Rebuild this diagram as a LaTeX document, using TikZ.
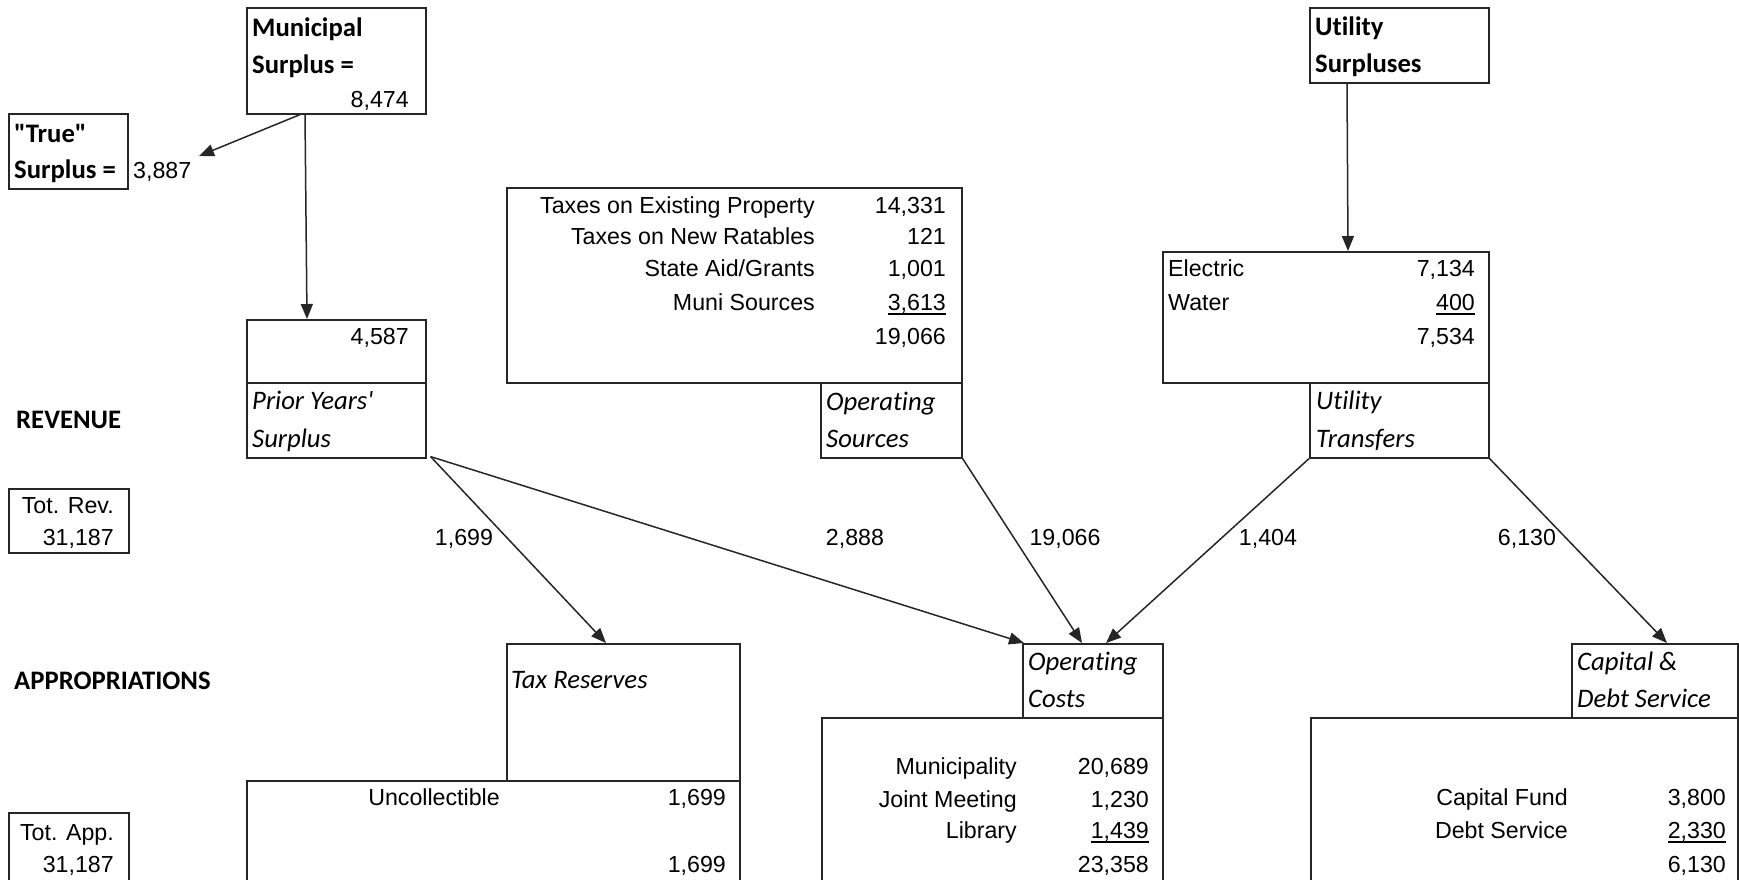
\documentclass[tikz,border=0pt]{standalone}
\usepackage{fontspec}
\setmainfont{Liberation Sans}
\newfontfamily\calib[Ligatures=NoCommon]{Carlito}
\usetikzlibrary{arrows.meta,calc}
\newcommand{\arialf}{\fontsize{23.2}{28}\selectfont}
\newcommand{\calbf}{\calib\bfseries\fontsize{26.7}{32}\selectfont}
\newcommand{\calit}{\calib\itshape\fontsize{26.7}{32}\selectfont}
\newcommand{\myul}[1]{\setbox0\hbox{#1}\rlap{\rule[-5pt]{\wd0}{1.8pt}}\box0}
\tikzset{
  bx/.style={draw=black!85, line width=1.6pt, inner sep=0pt, anchor=north west},
  ar/.style={txt, font=\arialf},
  txt/.style={inner sep=0pt, text=black},
  cb/.style={txt, font=\calbf},
  ci/.style={txt, font=\calit},
  flow/.style={draw=black!85, line width=1.5pt, -{Triangle[length=15pt,width=12pt]}}
}
\begin{document}
\begin{tikzpicture}[x=1pt,y=-1pt]
\useasboundingbox (0,0) rectangle (1739,879);
\clip (0,0) rectangle (1739,879);
% boxes
\node[bx, minimum width=179pt, minimum height=106pt] (muni) at (246,7) {};
\node[bx, minimum width=119pt, minimum height=75pt] (truebox) at (8,113) {};
\node[bx, minimum width=179pt, minimum height=75pt] (usurp) at (1309,7) {};
\node[bx, minimum width=179pt, minimum height=63pt] (prior) at (246,319) {};
\node[bx, minimum width=179pt, minimum height=75pt] (priorlbl) at (246,382) {};
\node[bx, minimum width=455pt, minimum height=195pt] (opsrc) at (506,187) {};
\node[bx, minimum width=141pt, minimum height=75pt] (opsrclbl) at (820,382) {};
\node[bx, minimum width=326pt, minimum height=131pt] (elec) at (1162,251) {};
\node[bx, minimum width=179pt, minimum height=75pt] (eleclbl) at (1309,382) {};
\node[bx, minimum width=120pt, minimum height=64pt] (totrev) at (8,488) {};
\node[bx, minimum width=120pt, minimum height=100pt] (totapp) at (8,812) {};
\node[bx, minimum width=233pt, minimum height=137pt] (taxres) at (506,643) {};
\node[bx, minimum width=493pt, minimum height=130pt] (uncoll) at (246,780) {};
\node[bx, minimum width=140pt, minimum height=74pt] (opclbl) at (1022,643) {};
\node[bx, minimum width=341pt, minimum height=180pt] (opc) at (821,717) {};
\node[bx, minimum width=166pt, minimum height=74pt] (caplbl) at (1571,643) {};
\node[bx, minimum width=427pt, minimum height=180pt] (cap) at (1310,717) {};

% texts top-left
\node[cb, anchor=base west] (t1) at (252,36) {Municipal};
\node[cb, anchor=base west] (t2) at (252,73) {Surplus =};
\node[ar, anchor=base east] (t3) at (409,107) {8,474};
\node[cb, anchor=base west] (t4) at (14,142) {"True"};
\node[cb, anchor=base west] (t5) at (14,178) {Surplus =};
\node[ar, anchor=base west] (t6) at (133,178) {3,887};
\node[ar, anchor=base east] (t7) at (409,344) {4,587};
\node[ci, anchor=base west] (t8) at (252,409) {Prior Years'};
\node[ci, anchor=base west] (t9) at (252,447) {Surplus};
\node[cb, anchor=base west] (t10) at (16,428) {REVENUE};

% operating sources
\node[ar, anchor=base east] (s1) at (815,213) {Taxes on Existing Property};
\node[ar, anchor=base east] (s2) at (815,244) {Taxes on New Ratables};
\node[ar, anchor=base east] (s3) at (815,276) {State Aid/Grants};
\node[ar, anchor=base east] (s4) at (815,310) {Muni Sources};
\node[ar, anchor=base east] (n1) at (946,213) {14,331};
\node[ar, anchor=base east] (n2) at (946,244) {121};
\node[ar, anchor=base east] (n3) at (946,276) {1,001};
\node[ar, anchor=base east] (n4) at (946,310) {\myul{3,613}};
\node[ar, anchor=base east] (n5) at (946,344) {19,066};
\node[ci, anchor=base west] (s5) at (826,410) {Operating};
\node[ci, anchor=base west] (s6) at (826,447) {Sources};

% utilities
\node[cb, anchor=base west] (u1) at (1315,35) {Utility};
\node[cb, anchor=base west] (u2) at (1315,72) {Surpluses};
\node[ar, anchor=base west] (u3) at (1168,276) {Electric};
\node[ar, anchor=base west] (u4) at (1168,310) {Water};
\node[ar, anchor=base east] (u5) at (1475,276) {7,134};
\node[ar, anchor=base east] (u6) at (1475,310) {\myul{400}};
\node[ar, anchor=base east] (u7) at (1475,344) {7,534};
\node[ci, anchor=base west] (u8) at (1316,409) {Utility};
\node[ci, anchor=base west] (u9) at (1316,447) {Transfers};

% totals and section labels
\node[ar, anchor=base east] (r1) at (114,513) {Tot. Rev.};
\node[ar, anchor=base east] (r2) at (114,545) {31,187};
\node[cb, anchor=base west] (r3) at (14,689) {APPROPRIATIONS};
\node[ar, anchor=base east] (r4) at (114,840) {Tot. App.};
\node[ar, anchor=base east] (r5) at (114,872) {31,187};

% arrow labels
\node[ar, anchor=base] (l1) at (464,545) {1,699};
\node[ar, anchor=base] (l2) at (855,545) {2,888};
\node[ar, anchor=base] (l3) at (1065,545) {19,066};
\node[ar, anchor=base] (l4) at (1268,545) {1,404};
\node[ar, anchor=base] (l5) at (1527,545) {6,130};

% tax reserves
\node[ci, anchor=base west] (x1) at (511,688) {Tax Reserves};
\node[ar, anchor=base east] (x2) at (500,805) {Uncollectible};
\node[ar, anchor=base east] (x3) at (726,805) {1,699};
\node[ar, anchor=base east] (x4) at (726,872) {1,699};

% operating costs
\node[ci, anchor=base west] (o1) at (1028,670) {Operating};
\node[ci, anchor=base west] (o2) at (1028,707) {Costs};
\node[ar, anchor=base east] (o3) at (1017,774) {Municipality};
\node[ar, anchor=base east] (o4) at (1017,807) {Joint Meeting};
\node[ar, anchor=base east] (o5) at (1017,838) {Library};
\node[ar, anchor=base east] (o6) at (1149,774) {20,689};
\node[ar, anchor=base east] (o7) at (1149,807) {1,230};
\node[ar, anchor=base east] (o8) at (1149,838) {\myul{1,439}};
\node[ar, anchor=base east] (o9) at (1149,872) {23,358};

% capital
\node[ci, anchor=base west] (c1) at (1577,670) {Capital \&};
\node[ci, anchor=base west] (c2) at (1577,707) {Debt Service};
\node[ar, anchor=base east] (c3) at (1568,805) {Capital Fund};
\node[ar, anchor=base east] (c4) at (1568,838) {Debt Service};
\node[ar, anchor=base east] (c5) at (1726,805) {3,800};
\node[ar, anchor=base east] (c6) at (1726,838) {\myul{2,330}};
\node[ar, anchor=base east] (c7) at (1726,872) {6,130};

% connectors
\coordinate (trueend) at (199,156);
\draw[flow] ($(muni.south west)+(54,0)$) -- (trueend);
\draw[flow] ($(muni.south west)+(59,0)$) -- ($(prior.north west)+(61,0)$);
\draw[flow] ($(usurp.south west)+(38,0)$) -- ($(elec.north west)+(186,0)$);
\draw[flow] ($(priorlbl.south east)+(4,-2)$) -- ($(taxres.north west)+(100,0)$);
\draw[flow] ($(priorlbl.south east)+(4,-2)$) -- ($(opclbl.north west)+(2,0)$);
\draw[flow] (opsrclbl.south east) -- ($(opclbl.north west)+(60,0)$);
\draw[flow] (eleclbl.south west) -- ($(opclbl.north west)+(84,0)$);
\draw[flow] (eleclbl.south east) -- ($(caplbl.north west)+(96,0)$);
\end{tikzpicture}
\end{document}
